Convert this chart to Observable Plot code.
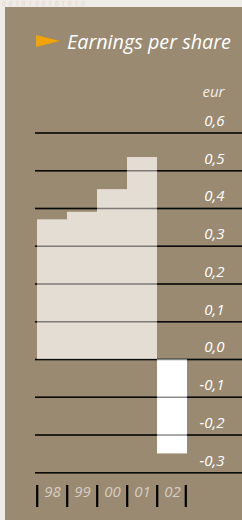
<!DOCTYPE html>
<html><head><meta charset="utf-8">
<script src="https://cdn.jsdelivr.net/npm/d3@7"></script>
<script src="https://cdn.jsdelivr.net/npm/@observablehq/plot@0.6"></script>
<style>
html,body{margin:0;padding:0;background:#efebe6;}
#wrap{position:relative;width:242px;height:520px;overflow:hidden;background:#efebe6;font-family:"Open Sans",sans-serif;}
#bin1{position:absolute;left:2px;top:0px;font-size:6.5px;line-height:7px;height:7px;font-style:italic;color:#ddd6cd;white-space:nowrap;letter-spacing:3px;}
#panel{position:absolute;left:5px;top:7px;width:237px;height:513px;background:#998a71;}
#title{position:absolute;left:67px;top:28px;font-size:19.8px;font-style:italic;color:#fff;white-space:nowrap;}
#tri{position:absolute;left:36px;top:35px;width:0;height:0;border-left:24px solid #f0a30a;border-top:6.5px solid transparent;border-bottom:6.5px solid transparent;}
#chart{position:absolute;left:0;top:0;}
#chart svg text{font-size:15px;}
</style></head>
<body>
<div id="wrap">
  <div id="bin1">0010100101010</div>
  <div id="panel"></div>
  <div id="tri"></div>
  <div id="title">Earnings per share</div>
  <div id="chart"></div>
</div>
<script>
const years = ["98", "99", "00", "01", "02"];
const eps = [0.37, 0.39, 0.45, 0.535, -0.25];
const tickValues = [-0.3, -0.2, -0.1, 0.0, 0.1, 0.2, 0.3, 0.4, 0.5, 0.6];
const tickLabels = ["-0,3", "-0,2", "-0,1", "0,0", "0,1", "0,2", "0,3", "0,4", "0,5", "0,6"];
const unitLabel = "eur";

const data = years.map((y, i) => ({year: y, eps: eps[i]}));
const ticks = tickValues.map((v, i) => ({v, label: tickLabels[i]}));
const bw = (188 - 35) / years.length;

const plot = Plot.plot({
  width: 242,
  height: 520,
  marginTop: 132.5,
  marginBottom: 47.7,
  marginLeft: 35,
  marginRight: 0,
  style: {background: "transparent", fontFamily: "Open Sans, sans-serif", fontSize: "15px", overflow: "visible"},
  x: {type: "band", domain: years, range: [35, 188], padding: 0, axis: null},
  y: {domain: [-0.3, 0.6], axis: null},
  marks: [
    Plot.ruleY(ticks, {y: "v", stroke: "#111", strokeWidth: 1.6}),
    Plot.barY(data, {x: "year", y: "eps", fill: d => d.eps < 0 ? "#ffffff" : "#e4ddd4"}),
    Plot.ruleY(ticks, {y: "v", stroke: "#000", strokeOpacity: 0.45, strokeWidth: 1.6}),
    Plot.text(ticks, {y: "v", text: "label", frameAnchor: "right", dx: -18, dy: -12, textAnchor: "end", fill: "#fff", fontSize: 15, fontStyle: "italic"}),
    Plot.text([unitLabel], {text: d => d, frameAnchor: "top-right", dx: -18, dy: -47, textAnchor: "end", fill: "#f3efe9", fontSize: 15, fontStyle: "italic"}),
    Plot.text(data, {x: "year", text: "year", frameAnchor: "bottom", dy: 24, fill: "#d6cec3", fontSize: 15, fontStyle: "italic"}),
    Plot.ruleX(data, {x: "year", dx: -bw / 2, stroke: "#000", strokeWidth: 2.2, insetTop: 352.5, insetBottom: -34.7}),
    Plot.ruleX(data.slice(-1), {x: "year", dx: bw / 2 - 2, stroke: "#000", strokeWidth: 2.2, insetTop: 352.5, insetBottom: -34.7})
  ]
});
document.getElementById("chart").appendChild(plot);
</script>
</body></html>
